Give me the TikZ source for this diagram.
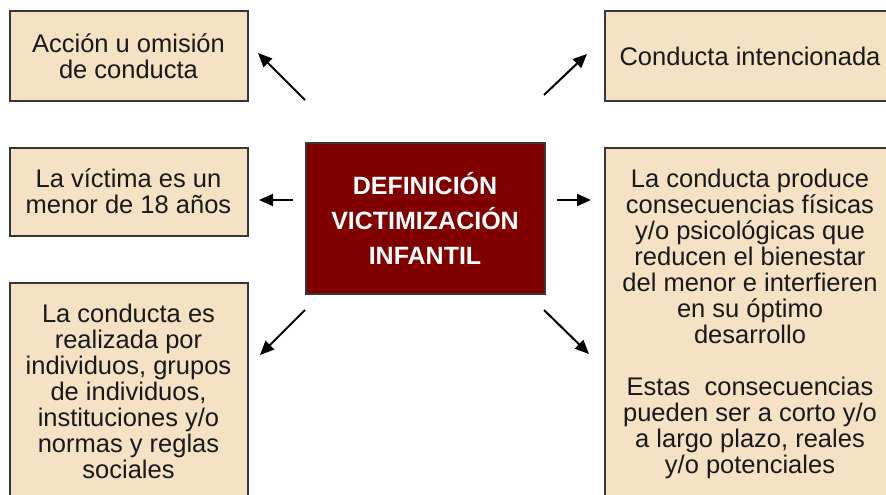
\documentclass[tikz,border=0pt]{standalone}
\usepackage{fontspec}
\setmainfont{Liberation Sans}
\usepackage{tikz}
\usetikzlibrary{positioning}
\usetikzlibrary{calc}
\usetikzlibrary{arrows.meta}

\definecolor{boxfill}{RGB}{245,225,195}
\definecolor{boxline}{RGB}{55,55,55}
\definecolor{defred}{RGB}{128,0,0}
\definecolor{boxtext}{RGB}{25,25,25}

\begin{document}
\begin{tikzpicture}[
    x=1pt, y=-1pt,
    textbox/.style={
        draw=boxline,
        line width=2pt,
        fill=boxfill,
        text=boxtext,
        align=center,
        inner sep=0pt,
        font=\fontsize{25.5}{26}\selectfont
    },
    defbox/.style={
        draw=boxline,
        line width=2pt,
        fill=defred,
        text=white,
        align=center,
        inner sep=0pt,
        font=\bfseries\fontsize{25}{35}\selectfont
    },
    arr/.style={-{Triangle[length=14pt,width=12pt]}, line width=2pt, black}
]

    % Frame
    \useasboundingbox (0,0) rectangle (886,495);
    \clip (0,0) rectangle (886,495);

    % Center
    \node[defbox, minimum width=239, minimum height=151] (def) at (425,218)
        {DEFINICIÓN\\VICTIMIZACIÓN\\INFANTIL};

    % Left column
    \node[textbox, minimum width=238, minimum height=89] (accion) at (128.5,56)
        {Acción u omisión\\de conducta};
    \node[textbox, minimum width=238, minimum height=88] (victima) at (128.5,191.5)
        {La víctima es un\\menor de 18 años};
    \node[textbox, minimum width=238, minimum height=218] (realiza) at (128.5,391.5)
        {La conducta es\\realizada por\\individuos, grupos\\de individuos,\\instituciones y/o\\normas y reglas\\sociales};

    % Right column
    \node[textbox, minimum width=290, minimum height=89] (intencion) at (750,56)
        {Conducta intencionada};
    \node[textbox, minimum width=290, minimum height=352] (consecuencia) at (750,323.5)
        {La conducta produce\\consecuencias físicas\\y/o psicológicas que\\reducen el bienestar\\del menor e interfieren\\en su óptimo\\desarrollo\\[26pt]Estas~ consecuencias\\pueden ser a corto y/o\\a largo plazo, reales\\y/o potenciales};

    % Arrows
    \coordinate (tlS) at (305,100);
    \coordinate (tlE) at (258,53);
    \coordinate (trS) at (544,95);
    \coordinate (trE) at (587,54);
    \coordinate (mlS) at (293,200);
    \coordinate (mlE) at (259,200);
    \coordinate (mrS) at (557,200);
    \coordinate (mrE) at (591,200);
    \coordinate (blS) at (305,310);
    \coordinate (blE) at (260,355);
    \coordinate (brS) at (544,310);
    \coordinate (brE) at (589,354);

    \draw[arr] (tlS) -- (tlE);
    \draw[arr] (trS) -- (trE);
    \draw[arr] (mlS) -- (mlE);
    \draw[arr] (mrS) -- (mrE);
    \draw[arr] (blS) -- (blE);
    \draw[arr] (brS) -- (brE);

\end{tikzpicture}
\end{document}
